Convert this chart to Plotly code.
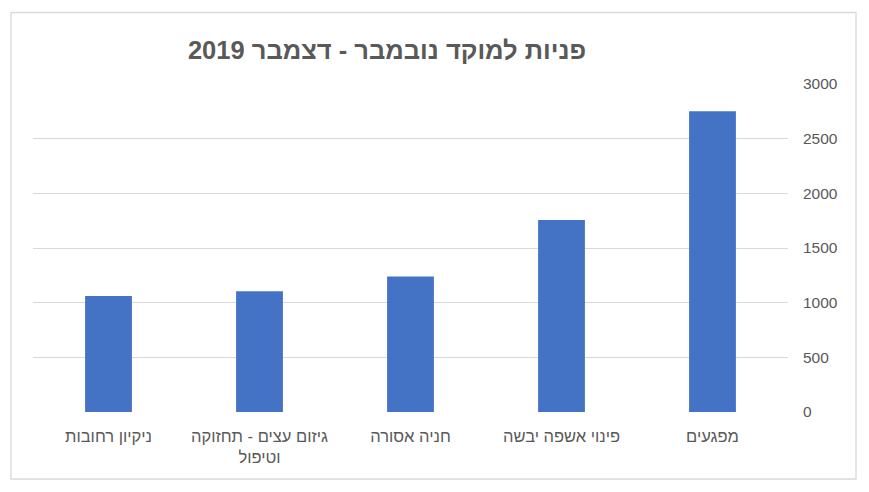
import plotly.graph_objects as go

categories = ["ניקיון רחובות", "גיזום עצים - תחזוקה<br>וטיפול", "חניה אסורה", "פינוי אשפה יבשה", "מפגעים"]
values = [1060, 1105, 1240, 1755, 2750]
y_ticks = [0, 500, 1000, 1500, 2000, 2500, 3000]
title_text = "פניות למוקד נובמבר - דצמבר 2019"

W, H = 869, 492
ML, MR, MT, MB = 33, 81, 84, 80
pw, ph = W - ML - MR, H - MT - MB

fig = go.Figure()
fig.add_trace(go.Bar(x=categories, y=values, marker=dict(color="#4472C4", line=dict(width=0))))

# outer chart border
bx0, bx1, by0, by1 = 11, 856, 12.5, 479
fig.add_shape(type="rect", xref="paper", yref="paper",
              x0=(bx0 - ML) / pw, x1=(bx1 - ML) / pw,
              y0=(H - MB - by1) / ph, y1=(H - MB - by0) / ph,
              line=dict(color="#d9d9d9", width=1.3), fillcolor="rgba(0,0,0,0)", layer="below")

fig.update_layout(
    width=W, height=H,
    margin=dict(l=ML, r=MR, t=MT, b=MB, pad=0),
    paper_bgcolor="white", plot_bgcolor="white",
    bargap=0.69,
    showlegend=False,
    title=dict(text="\u202B" + title_text + "\u202C", x=(387) / W, xanchor="center",
               y=1 - 50 / H, yanchor="middle",
               font=dict(family="Liberation Sans, Arial", size=25.5, color="#595959", weight="bold")),
    xaxis=dict(type="category", showgrid=False, showline=False, ticks="",
               tickfont=dict(family="Liberation Sans, Arial", size=16.5, color="#595959"),
               ticklabelstandoff=12),
    yaxis=dict(side="right", range=[0, 3000], tickvals=y_ticks, showgrid=True,
               gridcolor="#d9d9d9", gridwidth=1.3, zeroline=False, showline=False, ticks="",
               tickfont=dict(family="Liberation Sans, Arial", size=15.5, color="#595959"),
               ticklabelstandoff=14),
)

fig.write_html("out.html")
